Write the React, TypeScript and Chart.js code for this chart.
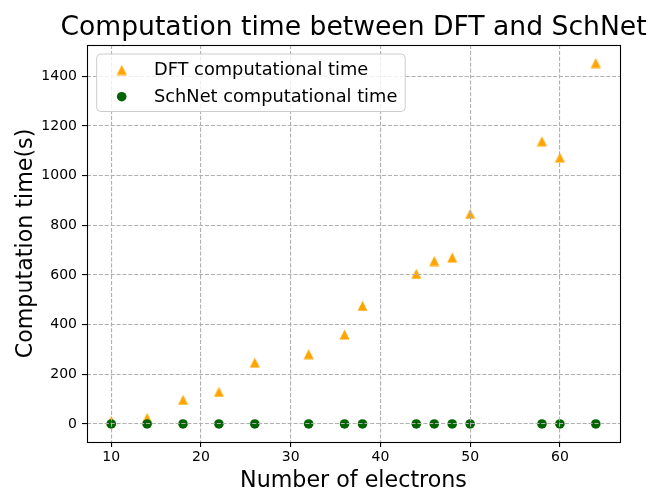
import React, { useEffect, useRef } from "react";
import { Chart, registerables } from "chart.js";

Chart.register(...registerables);

// ---- data ----
const electrons = [10, 14, 18, 22, 26, 32, 36, 38, 44, 46, 48, 50, 58, 60, 64];
const dftTime = [12, 24, 97, 129, 247, 281, 360, 475, 604, 656, 670, 846, 1138, 1072, 1453];
const schnetTime = [0, 0, 0, 0, 0, 0, 0, 0, 0, 0, 0, 0, 0, 0, 0];
const seriesLabels = ["DFT computational time", "SchNet computational time"];
const seriesColors = ["#FFA500", "#006400"];
const xTicks = [10, 20, 30, 40, 50, 60];
const yTicks = [0, 200, 400, 600, 800, 1000, 1200, 1400];
const titleText = "Computation time between DFT and SchNet";
const xLabel = "Number of electrons";
const yLabel = "Computation time(s)";

const FONT = "DejaVu Sans";

function makeTriangle(color: string): HTMLCanvasElement {
  const c = document.createElement("canvas");
  c.width = 11;
  c.height = 11;
  const g = c.getContext("2d")!;
  g.fillStyle = color;
  g.beginPath();
  g.moveTo(5.5, 0.5);
  g.lineTo(0.5, 10.5);
  g.lineTo(10.5, 10.5);
  g.closePath();
  g.fill();
  return c;
}

export default function App() {
  const ref = useRef<HTMLCanvasElement | null>(null);

  useEffect(() => {
    document.body.style.margin = "0";
    document.body.style.overflow = "hidden";
    const canvas = ref.current!;
    const tri = makeTriangle(seriesColors[0]);

    const xMin = Math.min(...electrons);
    const xMax = Math.max(...electrons);
    const xPad = (xMax - xMin) * 0.05;
    const allY = [...dftTime, ...schnetTime];
    const yMin = Math.min(...allY);
    const yMax = Math.max(...allY);
    const yPad = (yMax - yMin) * 0.05;

    const decor = {
      id: "decor",
      afterDraw(chart: any) {
        const ctx = chart.ctx as CanvasRenderingContext2D;
        const a = chart.chartArea;
        ctx.save();
        // spines
        ctx.strokeStyle = "#000";
        ctx.lineWidth = 1.1;
        ctx.strokeRect(a.left + 0.5, a.top + 0.5, a.right - a.left, a.bottom - a.top);
        // title
        ctx.fillStyle = "#000";
        ctx.font = `26.6px "${FONT}"`;
        ctx.textAlign = "center";
        ctx.textBaseline = "alphabetic";
        ctx.fillText(titleText, (a.left + a.right) / 2, 35);
        // legend
        const lx = a.left + 9.7;
        const ly = a.top + 9;
        const lw = 308.5;
        const lh = 57.5;
        const r = 4;
        ctx.beginPath();
        ctx.moveTo(lx + r, ly);
        ctx.lineTo(lx + lw - r, ly);
        ctx.arcTo(lx + lw, ly, lx + lw, ly + r, r);
        ctx.lineTo(lx + lw, ly + lh - r);
        ctx.arcTo(lx + lw, ly + lh, lx + lw - r, ly + lh, r);
        ctx.lineTo(lx + r, ly + lh);
        ctx.arcTo(lx, ly + lh, lx, ly + lh - r, r);
        ctx.lineTo(lx, ly + r);
        ctx.arcTo(lx, ly, lx + r, ly, r);
        ctx.closePath();
        ctx.fillStyle = "rgba(255,255,255,0.8)";
        ctx.fill();
        ctx.strokeStyle = "#cccccc";
        ctx.lineWidth = 1;
        ctx.stroke();
        const mx = lx + 25;
        const rows = [ly + 16, ly + 42.7];
        ctx.drawImage(tri, mx - tri.width / 2, rows[0] - tri.height / 2);
        ctx.fillStyle = seriesColors[1];
        ctx.beginPath();
        ctx.arc(mx, rows[1], 4.8, 0, Math.PI * 2);
        ctx.fill();
        ctx.fillStyle = "#000";
        ctx.font = `17.8px "${FONT}"`;
        ctx.textAlign = "left";
        ctx.textBaseline = "alphabetic";
        ctx.fillText(seriesLabels[0], lx + 57.3, rows[0] + 5);
        ctx.fillText(seriesLabels[1], lx + 57.3, rows[1] + 5);
        ctx.restore();
      },
    };

    const gridCommon = {
      color: "#b0b0b0",
      lineWidth: 1.1,
      tickColor: "#000",
      tickLength: 5,
      tickWidth: 1.1,
      tickBorderDash: [],
      z: 1,
    };

    const chart = new Chart(canvas, {
      type: "scatter",
      data: {
        datasets: [
          {
            label: seriesLabels[0],
            data: electrons.map((x, i) => ({ x, y: dftTime[i] })),
            pointStyle: tri as any,
            backgroundColor: seriesColors[0],
            borderColor: seriesColors[0],
            order: 1,
          },
          {
            label: seriesLabels[1],
            data: electrons.map((x, i) => ({ x, y: schnetTime[i] })),
            pointStyle: "circle",
            pointRadius: 4.8,
            pointBorderWidth: 0,
            backgroundColor: seriesColors[1],
            borderColor: seriesColors[1],
            order: 0,
          },
        ],
      },
      options: {
        responsive: false,
        animation: false,
        events: [],
        layout: { padding: { top: 45, right: 33, left: 0, bottom: 0 } },
        plugins: {
          legend: { display: false },
          title: { display: false },
          tooltip: { enabled: false },
        },
        scales: {
          x: {
            type: "linear",
            bounds: "data",
            min: xMin - xPad,
            max: xMax + xPad,
            afterBuildTicks: (s: any) => {
              s.ticks = xTicks.map((v) => ({ value: v }));
            },
            ticks: {
              color: "#000",
              padding: 2,
              maxRotation: 0,
              autoSkip: false,
              font: { family: FONT, size: 14 },
              callback: (v: any) => String(v),
            },
            grid: gridCommon as any,
            border: { display: false, dash: [4.1, 1.8] },
            title: {
              display: true,
              text: xLabel,
              color: "#000",
              font: { family: FONT, size: 22.2, lineHeight: 1 },
              padding: { top: 0, bottom: 0 },
            },
            afterFit: (s: any) => {
              s.height = 50;
            },
          },
          y: {
            type: "linear",
            bounds: "data",
            min: yMin - yPad,
            max: yMax + yPad,
            afterBuildTicks: (s: any) => {
              s.ticks = yTicks.map((v) => ({ value: v }));
            },
            ticks: {
              color: "#000",
              padding: 5,
              autoSkip: false,
              font: { family: FONT, size: 14 },
              callback: (v: any) => String(v),
            },
            grid: gridCommon as any,
            border: { display: false, dash: [4.1, 1.8] },
            title: {
              display: true,
              text: yLabel,
              color: "#000",
              font: { family: FONT, size: 22.2, lineHeight: 1 },
              padding: { top: 15, bottom: 0 },
            },
            afterFit: (s: any) => {
              s.width = 87;
            },
          },
        },
      },
      plugins: [decor],
    });
    return () => chart.destroy();
  }, []);

  return (
    <div style={{ width: 653, height: 492, background: "#fff" }}>
      <canvas ref={ref} width={653} height={492} style={{ display: "block" }} />
    </div>
  );
}
